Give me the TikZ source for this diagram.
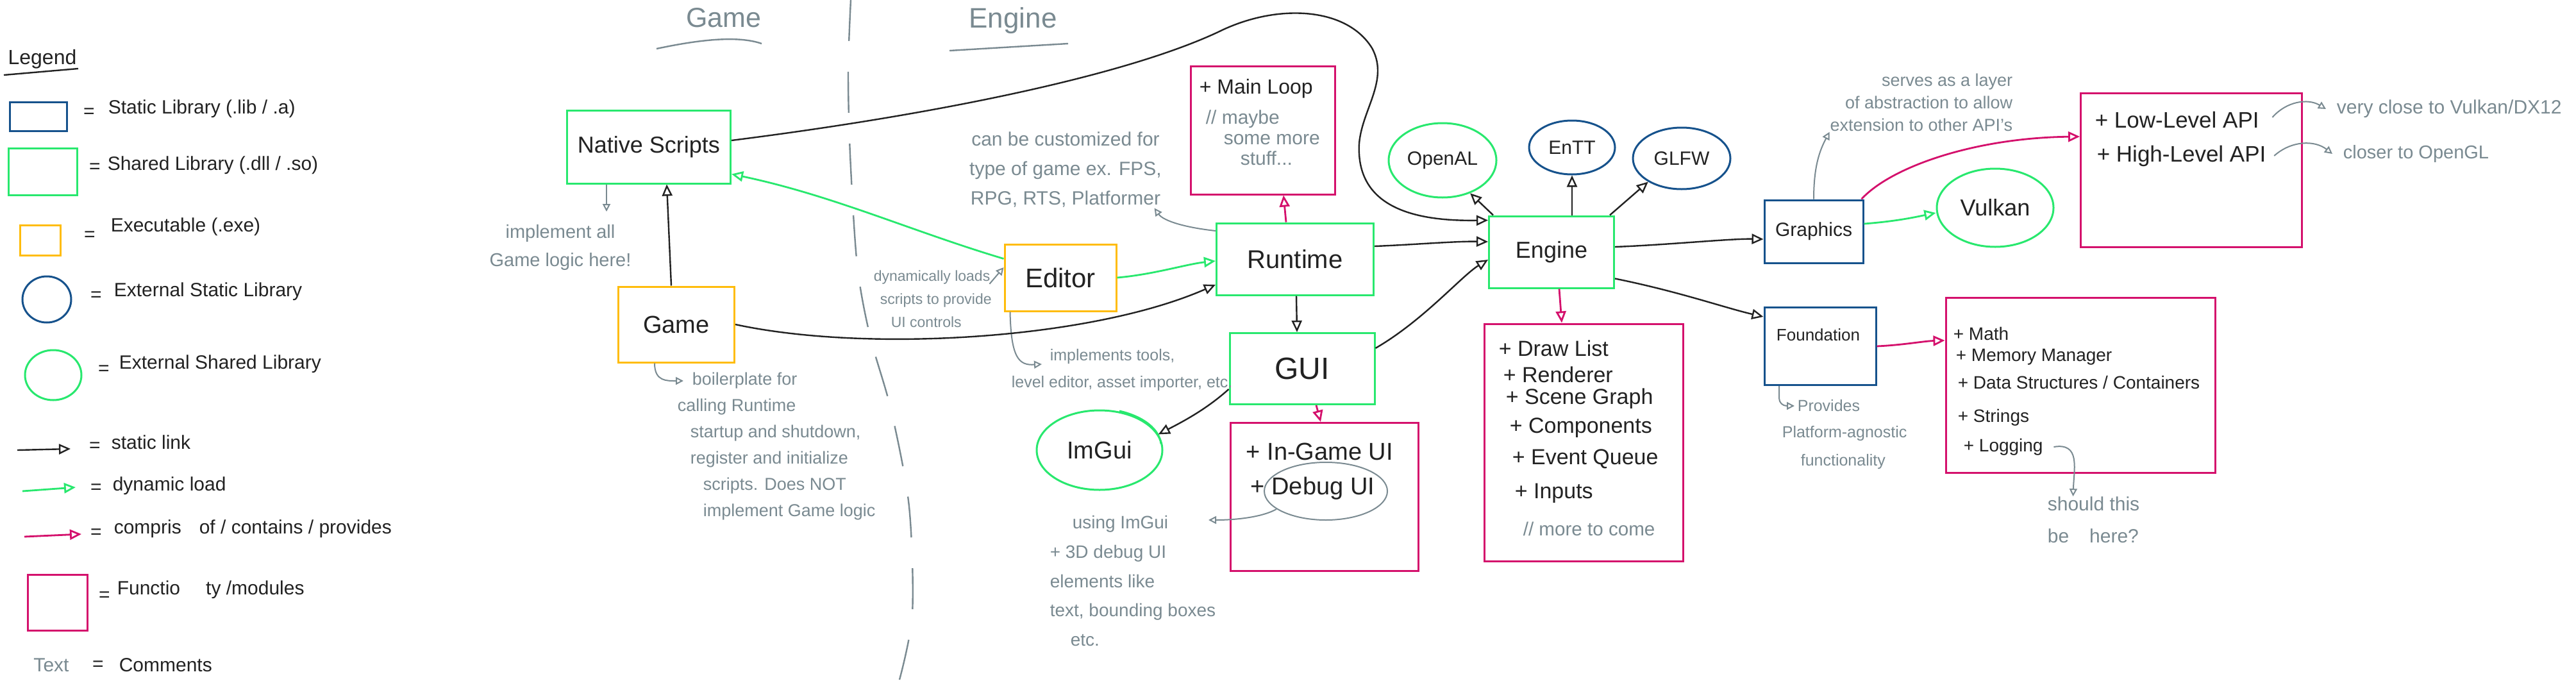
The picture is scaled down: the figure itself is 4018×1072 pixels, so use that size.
\documentclass[tikz,border=0pt]{standalone}
\usepackage{fontspec}
\setmainfont{Liberation Sans}
\usetikzlibrary{arrows.meta,shapes.geometric,calc}
\definecolor{cBlue}{RGB}{22,82,140}
\definecolor{cGreen}{RGB}{40,232,110}
\definecolor{cYellow}{RGB}{255,188,10}
\definecolor{cPink}{RGB}{212,16,108}
\definecolor{cGray}{RGB}{122,138,145}
\definecolor{cInk}{RGB}{34,34,34}
\newcommand\fsz[2]{\fontsize{#1}{#2}\selectfont}
\begin{document}
\begin{tikzpicture}[x=0.25pt, y=-0.25pt,
 bx/.style={draw, rectangle, line width=0.75pt, inner sep=0pt, text=cInk},
 bxS/.style={bx, draw=cBlue},
 bxD/.style={bx, draw=cGreen},
 bxE/.style={bx, draw=cYellow},
 bxF/.style={bx, draw=cPink},
 el/.style={ellipse, draw, line width=0.75pt, inner sep=0pt, text=cInk},
 elS/.style={el, draw=cBlue},
 elD/.style={el, draw=cGreen},
 lbl/.style={inner sep=0pt, text=cInk},
 cmt/.style={inner sep=0pt, text=cGray},
 headT/.style={-{Triangle[open,length=4.5pt,width=4pt]}},
 lnStatic/.style={draw=cInk, line width=0.6pt, headT},
 lnDyn/.style={draw=cGreen, line width=0.7pt, headT},
 lnComp/.style={draw=cPink, line width=0.7pt, headT},
 lnCmt/.style={draw=cGray, line width=0.5pt, -{Triangle[open,length=3pt,width=3pt]}},
 fLeg/.style={font=\fsz{7.5}{9}},
]
\useasboundingbox (0,0) rectangle (4018,1072);
\fill[white] (0,0) rectangle (4018,1072);

% ---------------- Legend ----------------
\node[lbl, font=\fsz{8}{9}] (legT) at (66,92) {Legend};
\draw[cInk, line width=0.6pt] (6,117) -- (122,107);

\node[bxS, minimum width=22.25pt, minimum height=11.25pt] (lgS) at (60,182) {};
\node[lbl, fLeg] (eq1) at (139,176) {=};
\node[lbl, fLeg, anchor=west] (tS) at (168,170) {Static Library (.lib / .a)};

\node[bxD, minimum width=26.75pt, minimum height=18.25pt] (lgD) at (67,268) {};
\node[lbl, fLeg] (eq2) at (148,262) {=};
\node[lbl, fLeg, anchor=west] (tD) at (167,258) {Shared Library (.dll / .so)};

\node[bxE, minimum width=15.75pt, minimum height=11.75pt] (lgE) at (63,375) {};
\node[lbl, fLeg] (eq3) at (140,368) {=};
\node[lbl, fLeg, anchor=west] (tE) at (172,354) {Executable (.exe)};

\node[elS, minimum width=19pt, minimum height=18pt] (lgES) at (73,467) {};
\node[lbl, fLeg] (eq4) at (150,462) {=};
\node[lbl, fLeg, anchor=west] (tES) at (177,455) {External Static Library};

\node[elD, minimum width=22pt, minimum height=19.5pt] (lgED) at (83,585) {};
\node[lbl, fLeg] (eq5) at (162,577) {=};
\node[lbl, fLeg, anchor=west] (tED) at (185,568) {External Shared Library};

\coordinate (a1s) at (27,702); \coordinate (a1e) at (110,700);
\draw[lnStatic] (a1s) -- (a1e);
\node[lbl, fLeg] (eq6) at (148,697) {=};
\node[lbl, fLeg, anchor=west] (tSL) at (173,690) {static link};

\coordinate (a2s) at (35,766); \coordinate (a2e) at (118,760);
\draw[lnDyn] (a2s) -- (a2e);
\node[lbl, fLeg] (eq7) at (150,762) {=};
\node[lbl, fLeg, anchor=west] (tDL) at (175,758) {dynamic load};

\coordinate (a3s) at (38,837); \coordinate (a3e) at (127,833);
\draw[lnComp] (a3s) -- (a3e);
\node[lbl, fLeg] (eq8) at (150,832) {=};
\node[lbl, fLeg, anchor=west] (tC) at (177,825) {compris\hspace{7pt}of / contains / provides};

\node[bxF, minimum width=23.25pt, minimum height=21.75pt] (lgF) at (90,940) {};
\node[lbl, fLeg] (eq9) at (163,930) {=};
\node[lbl, fLeg, anchor=west] (tF) at (182,920) {Functio\hspace{10pt}ty /modules};

\node[cmt, fLeg] (tTxt) at (80,1037) {Text};
\node[lbl, fLeg] (eq10) at (153,1038) {=};
\node[lbl, fLeg, anchor=west] (tCm) at (185,1037) {Comments};

% ---------------- Headings & divider ----------------
\node[cmt, font=\fsz{10.75}{12}] (hGame) at (1129,28) {Game};
\draw[cGray, line width=0.6pt] (1024,76) .. controls (1090,62) and (1150,55) .. (1188,68);
\node[cmt, font=\fsz{11}{12}] (hEng) at (1580,32) {Engine};
\draw[cGray, line width=0.6pt] (1481,79) -- (1666,68);
\draw[cGray, line width=0.6pt, dash pattern=on 16pt off 12pt]
  plot[smooth] coordinates {(1327,0) (1323,110) (1326,241) (1337,413) (1357,524) (1390,640) (1418,790) (1423,957) (1403,1060)};

% ---------------- Main nodes ----------------
\node[bxD, minimum width=63.75pt, minimum height=28.5pt, font=\fsz{9}{10}] (ns) at (1012,229) {Native Scripts};
\node[bxE, minimum width=45.25pt, minimum height=29.5pt, font=\fsz{9.5}{10}] (game) at (1055,506) {Game};
\node[bxE, minimum width=43.5pt, minimum height=26pt, font=\fsz{10.5}{11}] (ed) at (1654,433) {Editor};
\node[bxD, minimum width=61.25pt, minimum height=28pt, font=\fsz{10}{11}] (rt) at (2020,404) {Runtime};
\node[bxF, minimum width=56.25pt, minimum height=50pt] (ml) at (1970,203) {};
\node[bxD, minimum width=56.5pt, minimum height=27.75pt, font=\fsz{12}{13}] (gui) at (2031,575) {GUI};
\node[elD, minimum width=49pt, minimum height=31pt, font=\fsz{9.5}{10}] (imgui) at (1715,702) {ImGui};
\node[bxF, minimum width=73.25pt, minimum height=57.75pt] (ingame) at (2066,775) {};
\node[ellipse, draw=cGray, line width=0.5pt, inner sep=0pt, minimum width=48pt, minimum height=22.5pt] (dbgE) at (2068,766) {};
\node[bxD, minimum width=48.75pt, minimum height=28pt, font=\fsz{9}{10}] (eng) at (2420,393) {Engine};
\node[elD, minimum width=42pt, minimum height=29pt, font=\fsz{7.5}{8}] (openal) at (2250,250) {OpenAL};
\node[elS, minimum width=33.5pt, minimum height=21pt, font=\fsz{7.5}{8}] (entt) at (2452,230) {EnTT};
\node[elS, minimum width=38pt, minimum height=24pt, font=\fsz{7.5}{8}] (glfw) at (2623,247) {GLFW};
\node[bxF, minimum width=77.5pt, minimum height=92.5pt] (dl) at (2470,690) {};
\node[bxS, minimum width=38.5pt, minimum height=24.5pt, font=\fsz{7.5}{8}] (gfx) at (2829,361) {Graphics};
\node[bxS, minimum width=43.5pt, minimum height=30.25pt] (fnd) at (2839,540) {};
\node[lbl, font=\fsz{6.5}{7}] (fndL) at (2836,522) {Foundation};
\node[elD, minimum width=45.5pt, minimum height=30.5pt, font=\fsz{9}{10}] (vk) at (3112,324) {Vulkan};
\node[bxF, minimum width=86.25pt, minimum height=60pt] (api) at (3418,265) {};
\node[bxF, minimum width=105pt, minimum height=68.25pt] (fn) at (3245,601) {};
\draw[cGreen, line width=0.75pt] (1746,641) .. controls (1785,650) and (1808,670) .. (1811,692);

% ---------------- Box contents ----------------
\node[lbl, anchor=west, font=\fsz{8}{9}] (mlA) at (1870,138) {+ Main Loop};
\node[cmt, anchor=west, font=\fsz{7.5}{8}] (mlB) at (1880,186) {// maybe};
\node[cmt, anchor=west, font=\fsz{7.5}{8}] (mlC) at (1908,218) {some more};
\node[cmt, anchor=west, font=\fsz{7.5}{8}] (mlD) at (1934,247) {stuff...};

\node[lbl, anchor=west, font=\fsz{9.5}{10}] (igA) at (1943,704) {+ In-Game UI};
\node[lbl, anchor=west, font=\fsz{9.5}{10}] (igB) at (1950,762) {+ Debug UI};

\node[lbl, anchor=west, font=\fsz{8.5}{9}] (dlA) at (2337,543) {+ Draw List};
\node[lbl, anchor=west, font=\fsz{8.5}{9}] (dlB) at (2344,584) {+ Renderer};
\node[lbl, anchor=west, font=\fsz{8.5}{9}] (dlC) at (2348,622) {+ Scene Graph};
\node[lbl, anchor=west, font=\fsz{8.5}{9}] (dlD) at (2354,667) {+ Components};
\node[lbl, anchor=west, font=\fsz{8.5}{9}] (dlE) at (2358,716) {+ Event Queue};
\node[lbl, anchor=west, font=\fsz{8.5}{9}] (dlF) at (2362,769) {+ Inputs};
\node[cmt, anchor=west, font=\fsz{7.4}{8}] (dlG) at (2375,825) {// more to come};

\node[lbl, anchor=west, font=\fsz{8.75}{9}] (apiA) at (3267,187) {+ Low-Level API};
\node[lbl, anchor=west, font=\fsz{8.75}{9}] (apiB) at (3270,243) {+ High-Level API};

\node[lbl, anchor=west, font=\fsz{7}{8}] (fnA) at (3046,520) {+ Math};
\node[lbl, anchor=west, font=\fsz{7}{8}] (fnB) at (3050,557) {+ Memory Manager};
\node[lbl, anchor=west, font=\fsz{7}{8}] (fnC) at (3053,596) {+ Data Structures / Containers};
\node[lbl, anchor=west, font=\fsz{7}{8}] (fnD) at (3053,651) {+ Strings};
\node[lbl, anchor=west, font=\fsz{7}{8}] (fnE) at (3062,697) {+ Logging};

% ---------------- Comments ----------------
\node[cmt, align=center, font=\fsz{7.25}{11}] (cmNS) at (874,386) {implement all\\Game logic here!};
\coordinate (nsTip) at (946,330);
\draw[lnCmt] ([xshift=-16.5pt]ns.south) -- (nsTip);

\node[cmt, align=left, anchor=west, font=\fsz{6.75}{10.25}] (cmGame) at (1056,696)
 {\hspace*{5.75pt}boilerplate for\\calling Runtime\\\hspace*{5pt}startup and shutdown,\\\hspace*{5pt}register and initialize\\\hspace*{10pt}scripts. Does NOT\\\hspace*{10pt}implement Game logic};
\coordinate (bpTip) at (1066,594);
\draw[lnCmt] ([xshift=-8.5pt]game.south) .. controls (1021,595) and (1040,594) .. (bpTip);

\node[cmt, align=left, anchor=west, font=\fsz{5.75}{9}] (cmDyn) at (1362,466)
 {dynamically loads\\\hspace*{2.5pt}scripts to provide\\\hspace*{6.75pt}UI controls};
\draw[lnCmt] ($(cmDyn.north east)+(-4,22)$) -- ([yshift=4pt]ed.west);

\node[cmt, align=center, font=\fsz{7.5}{11.5}] (cmCust) at (1662,265)
 {can be customized for\\type of game ex. FPS,\\RPG, RTS, Platformer};
\draw[lnCmt] ([yshift=11pt]rt.west) .. controls (1850,355) and (1815,345) .. ([xshift=-3pt]cmCust.south east);

\node[cmt, anchor=west, font=\fsz{6.25}{7}] (cmImp1) at (1637,556) {implements tools,};
\node[cmt, anchor=west, font=\fsz{6.25}{7}] (cmImp2) at (1577,598) {level editor, asset importer, etc.};
\draw[lnCmt] ([xshift=2.5pt]ed.south west) .. controls (1577,560) and (1590,570) .. ([xshift=-3pt,yshift=-3pt]cmImp1.west);

\node[cmt, align=left, anchor=west, font=\fsz{7}{11.4}] (cmUse) at (1637,906)
 {\hspace*{8.75pt}using ImGui\\+ 3D debug UI\\elements like\\text, bounding boxes\\\hspace*{8pt}etc.};
\coordinate (useTip) at (1885,811);
\draw[lnCmt] (dbgE.200) .. controls (1970,806) and (1930,811) .. (useTip);

\node[cmt, align=right, anchor=east, font=\fsz{6.75}{8.75}] (cmLayer) at (3140,160)
 {serves as a layer\\of abstraction to allow\\extension to other API's};
\draw[lnCmt] (gfx.north) .. controls (2829,260) and (2838,235) .. (cmLayer.south west);

\node[cmt, anchor=west, font=\fsz{7.5}{8}] (cmVc) at (3644,170) {very close to Vulkan/DX12};
\node[cmt, anchor=west, font=\fsz{7.25}{8}] (cmCl) at (3654,240) {closer to OpenGL};
\draw[lnCmt] ([xshift=5pt,yshift=1pt]apiA.east) to[bend left=40] ([xshift=-4pt]cmVc.west);
\draw[lnCmt] ([xshift=3pt]apiB.east) to[bend left=40] ([xshift=-4pt]cmCl.west);

\node[cmt, anchor=west, font=\fsz{6.25}{7}] (prov1) at (2803,633) {Provides};
\node[cmt, anchor=west, font=\fsz{6.25}{7}] (prov2) at (2779,676) {Platform-agnostic};
\node[cmt, anchor=west, font=\fsz{6.25}{7}] (prov3) at (2808,720) {functionality};
\draw[lnCmt, rounded corners=3pt] ([xshift=-16pt]fnd.south) |- ([xshift=-1pt]prov1.west);

\node[cmt, align=left, anchor=west, font=\fsz{7.5}{12.5}] (cmSh) at (3193,811) {should this\\be\hspace{8pt}here?};
\draw[lnCmt] ([xshift=4pt]fnE.east) .. controls (3245,690) and (3235,730) .. ([xshift=-8pt]cmSh.north);

% ---------------- Connectors ----------------
\draw[lnStatic] ([xshift=-2pt]game.north) -- ([xshift=7pt]ns.south);
\draw[lnDyn] ([yshift=-6pt]ed.north west) .. controls (1420,360) and (1300,305) .. ([yshift=4pt]ns.south east);
\draw[lnDyn] (ed.east) .. controls (1800,428) and (1850,412) .. ([yshift=-0.75pt]rt.west);
\draw[lnStatic] (game.east) .. controls (1350,550) and (1700,530) .. ([yshift=-10pt]rt.west);
\draw[lnComp] ([xshift=-3.5pt]rt.north) -- ([xshift=8pt]ml.south);
\draw[lnStatic] ([yshift=5pt]rt.east) .. controls (2200,382) and (2270,376) .. ([yshift=4pt]eng.west);
\draw[lnStatic] ([yshift=2.5pt]ns.east) .. controls (1450,180) and (1750,120) .. (1900,50)
   .. controls (1990,5) and (2100,10) .. (2140,75)
   .. controls (2170,130) and (2115,180) .. (2120,240)
   .. controls (2125,330) and (2220,345) .. ([yshift=-2pt]eng.north west);
\draw[lnStatic] ([yshift=8pt]gui.east) .. controls (2220,500) and (2280,430) .. ([yshift=-3pt]eng.west);
\draw[lnStatic] ([xshift=0.5pt]rt.south) -- ([xshift=-2pt]gui.north);
\draw[lnStatic] ([yshift=-8pt]gui.west) .. controls (1880,640) and (1840,660) .. (imgui.15);
\draw[lnComp] ([xshift=5.5pt]gui.south) -- ([xshift=-1.5pt]ingame.north);
\draw[lnStatic] ([xshift=2pt]eng.north west) -- (openal.-50);
\draw[lnStatic] (entt.south |- eng.north) -- (entt.south);
\draw[lnStatic] ([xshift=-2pt]eng.north east) -- (glfw.215);
\draw[lnStatic] ([yshift=2pt]eng.east) .. controls (2600,382) and (2700,372) .. ([yshift=-3pt]gfx.west);
\draw[lnStatic] ([yshift=4pt]eng.south east) .. controls (2620,455) and (2690,480) .. ([yshift=-4pt]fnd.north west);
\draw[lnComp] ([xshift=3pt]eng.south) -- ([xshift=-8.5pt]dl.north);
\draw[lnDyn] ([yshift=3pt]gfx.east) .. controls (2960,345) and (2990,338) .. ([yshift=-2pt]vk.west);
\draw[lnComp] ([xshift=-1pt]gfx.north east) .. controls (2950,260) and (3080,215) .. ([yshift=13pt]api.west);
\draw[lnComp] (fnd.east) .. controls (2970,538) and (3000,532) .. ([yshift=17.5pt]fn.west);
\end{tikzpicture}
\end{document}
